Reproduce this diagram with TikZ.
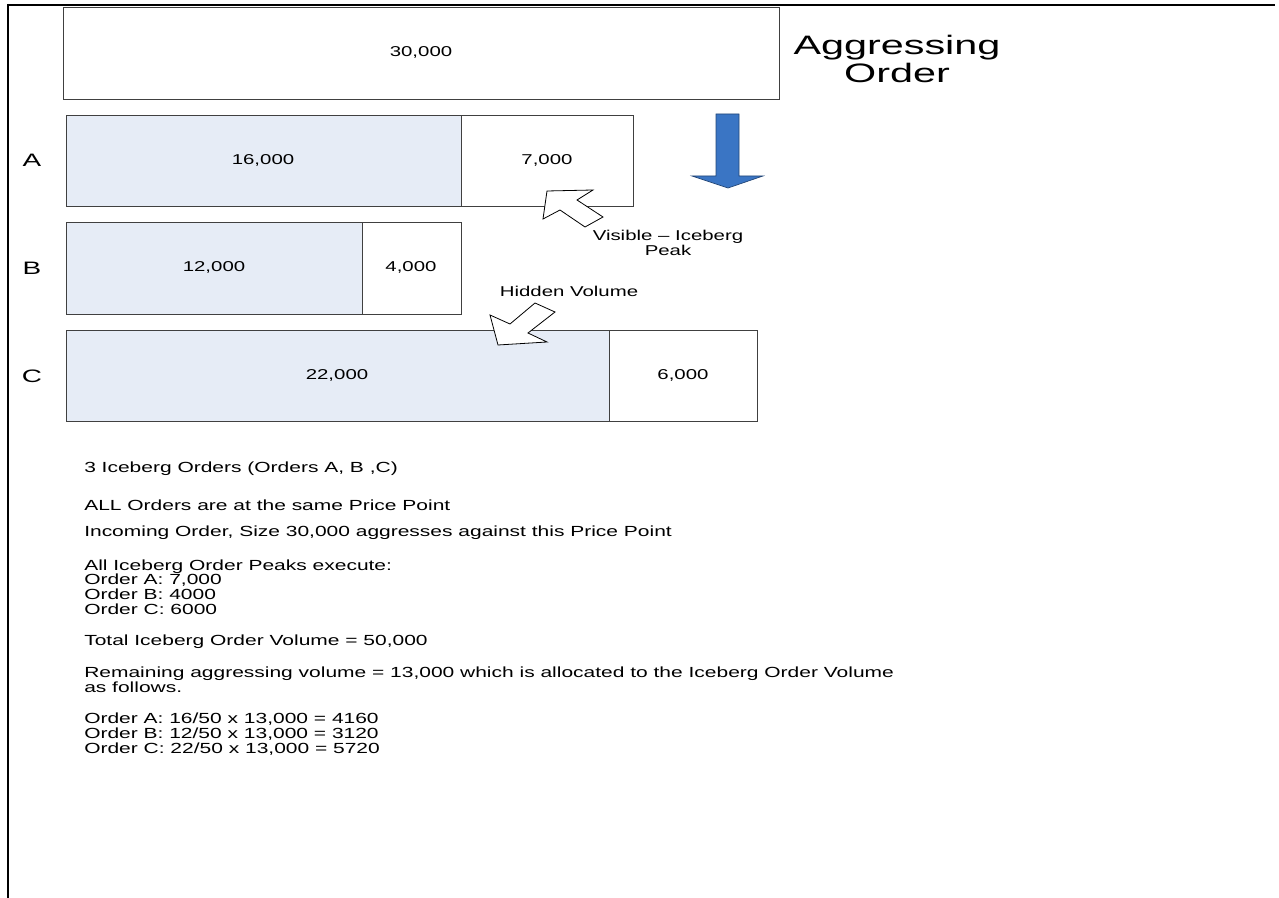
\documentclass[tikz,border=0pt]{standalone}
\usepackage{fontspec}
\setmainfont[FakeStretch=1.43]{Liberation Sans}
\newfontfamily\bigfont[FakeStretch=1.55]{Liberation Sans}
\usepackage{xcolor}
\usepackage{tikz}
\definecolor{iceblue}{RGB}{230,236,246}
\definecolor{aggblue}{RGB}{58,117,196}

\begin{document}
\begin{tikzpicture}[x=0.75pt,y=0.75pt,yscale=-1,xscale=1,
    box/.style={draw=black!75,line width=0.6pt},
    num/.style={inner sep=0.75pt,font=\fontsize{10.7}{11.5}\selectfont},
    rowlbl/.style={inner sep=0.75pt,font=\bigfont\fontsize{13.5}{15}\selectfont},
    note/.style={anchor=west,inner sep=0.75pt,align=left,font=\fontsize{11}{11.1}\selectfont},
    callout/.style={draw=black,line width=0.6pt,fill=white,line join=miter}]
        \useasboundingbox (0,0) rectangle (1279,898);
        % frame
        \draw [line width=1.9pt] (7,5) -- (1275,5) ;
        \draw [line width=1.9pt] (8,4) -- (8,898) ;

        % aggressing order
        \draw [box] (63,7) rectangle (779,99) ;
        \draw (421,52) node [num] (agg) {30,000};
        \draw (897,59) node [inner sep=0.75pt,align=center,font=\bigfont\fontsize{20}{21.5}\selectfont] (aggtxt) {Aggressing\\Order};

        % order A
        \draw [box,fill=iceblue] (66,115) rectangle (461,206) ;
        \draw [box] (461,115) rectangle (633,206) ;
        \draw (263,160) node [num] (hidA) {16,000};
        \draw (547,160) node [num] (visA) {7,000};
        \draw (32,160) node [rowlbl] (lblA) {A};

        % order B
        \draw [box,fill=iceblue] (66,222) rectangle (362,314) ;
        \draw [box] (362,222) rectangle (461,314) ;
        \draw (214,267) node [num] (hidB) {12,000};
        \draw (411,267) node [num] (visB) {4,000};
        \draw (32,268) node [rowlbl] (lblB) {B};

        % order C
        \draw [box,fill=iceblue] (66,330) rectangle (609,421) ;
        \draw [box] (609,330) rectangle (757,421) ;
        \draw (337,375) node [num] (hidC) {22,000};
        \draw (683,375) node [num] (visC) {6,000};
        \draw (32,376) node [rowlbl] (lblC) {C};

        % blue arrow
        \draw [draw=aggblue!60!black,fill=aggblue,line width=0.5pt] (716,114) -- (739,114) -- (739,176) -- (763,176) -- (728,188) -- (692,176) -- (716,176) -- cycle ;

        % callout arrows
        \draw [callout] (543,219) -- (547,191) -- (593,190) -- (577,200) -- (603,217) -- (585,227) -- (560,210) -- cycle ;
        \draw [callout] (498,345) -- (490,315) -- (510,324) -- (535,303) -- (555,312) -- (528,333) -- (547,342) -- cycle ;
        \draw (668,243) node [num,align=center] (peak) {Visible -- Iceberg\\Peak};
        \draw (569,291) node [num] (hidden) {Hidden Volume};

        % notes
        \draw (83,469) node [note] (n1) {3 Iceberg Orders (Orders A, B ,C)};
        \draw (83,505) node [note] (n2) {ALL Orders are at the same Price Point};
        \draw (83,533) node [note] (n3) {Incoming Order, Size 30,000 aggresses against this Price Point};
        \draw (83,587) node [note] (n4) {All Iceberg Order Peaks execute:\\Order A: 7,000\\Order B: 4000\\Order C: 6000};
        \draw (83,642) node [note] (n5) {Total Iceberg Order Volume = 50,000};
        \draw (83,680) node [note] (n6) {Remaining aggressing volume = 13,000 which is allocated to the Iceberg Order Volume\\as follows.};
        \draw (83,734) node [note] (n7) {Order A: 16/50 x 13,000 = 4160\\Order B: 12/50 x 13,000 = 3120\\Order C: 22/50 x 13,000 = 5720};

    \end{tikzpicture}
\end{document}
